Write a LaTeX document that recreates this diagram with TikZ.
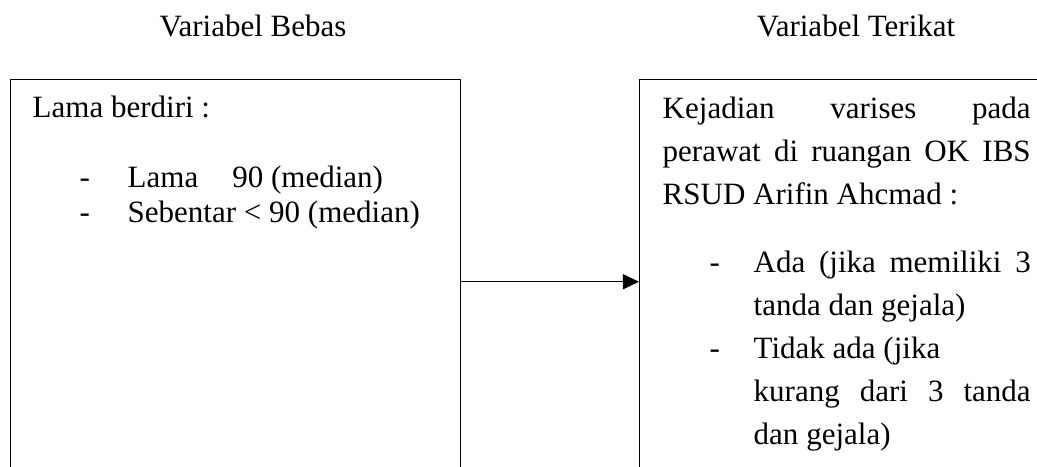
\documentclass[tikz,border=0pt]{standalone}
\usepackage{fontspec}
\setmainfont{Liberation Serif}
\usetikzlibrary{arrows.meta, positioning}

\begin{document}
\begin{tikzpicture}[
	x = 0.387pt, y = -0.387pt,
	> = {Triangle[length=6.2pt, width=5.8pt]}, line width=0.55pt,
	kotak/.style = {draw, minimum width=174.15pt, minimum height=156.35pt,
		inner sep=0pt, anchor=north west},
	judul/.style = {font=\fontsize{12}{14}\selectfont, anchor=base, inner sep=0pt},
	teks/.style = {font=\fontsize{12}{16.64}\selectfont, anchor=base west,
		inner sep=0pt, align=justify},
	]
	\useasboundingbox (0,0) rectangle (1037,466);
	\clip (0,0) rectangle (1037,466);
	% judul
	\node[judul] (jbebas) at (253,36) {Variabel Bebas};
	\node[judul] (jterikat) at (856,36) {Variabel Terikat};
	% kotak
	\node[kotak] (bebas) at (10,79) {};
	\node[kotak, minimum width=162.5pt] (terikat) at (639,79) {};
	% isi kiri
	\node[teks] (lama) at (32,117) {Lama berdiri :};
	\node[teks] (d1) at (79,187) {-};
	\node[teks] (d2) at (79,222) {-};
	\node[teks] (lama1) at (127,187) {Lama\hspace{13.16pt}90 (median)};
	\node[teks] (lama2) at (127,222) {Sebentar < 90 (median)};
	% isi kanan
	\node[teks, text width=142.4pt] (kej) at (662,118)
		{Kejadian varises pada\linebreak perawat di ruangan OK IBS\linebreak RSUD Arifin Ahcmad :};
	\node[teks] (d3) at (709,272) {-};
	\node[teks] (d4) at (709,358) {-};
	\node[teks, text width=107.2pt] (ada) at (753,272)
		{Ada (jika memiliki 3\linebreak tanda dan gejala)};
	\node[teks, text width=107.2pt] (tidak) at (753,358)
		{Tidak ada (jika\\ kurang dari 3 tanda\linebreak dan gejala)};
	% panah
	\draw[->] (bebas.east) -- (terikat.west);
\end{tikzpicture}
\end{document}
